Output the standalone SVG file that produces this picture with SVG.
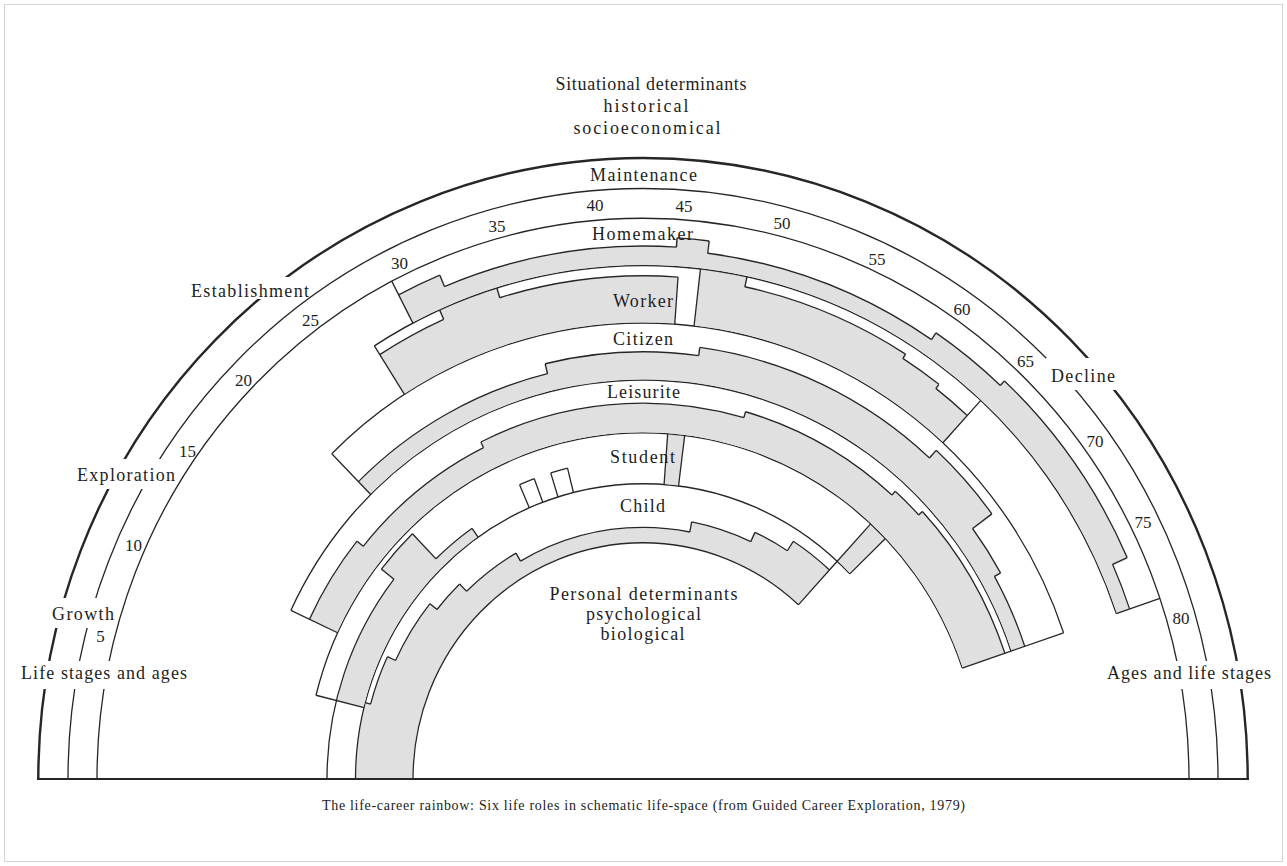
<svg xmlns="http://www.w3.org/2000/svg" width="1287" height="866" viewBox="0 0 1287 866">
<style>
.ln{fill:none;stroke:#262626;stroke-width:1.3}
.sh{fill:none;stroke:#e0e0e0}
.tx{font-family:"Liberation Serif","Times New Roman",serif;font-size:18px;fill:#1e1e1e;text-anchor:middle}
.nm{font-family:"Liberation Serif","Times New Roman",serif;font-size:17px;fill:#1e1e1e;text-anchor:middle}
.cap{font-family:"Liberation Serif","Times New Roman",serif;font-size:14px;fill:#222;text-anchor:middle}
.gap{fill:#fff}
</style>
<rect width="1287" height="866" fill="#fff"/>
<rect x="4.5" y="4.5" width="1278" height="857" fill="none" stroke="#d4d4d4"/>

<g id="rainbow" transform="translate(643,779) scale(1,1.027)">

<g id="role-child">
 <g transform="rotate(180)">
  <circle class="sh" r="258.75" stroke-width="56.3" pathLength="360" stroke-dasharray="15.15 400" stroke-dashoffset="0"/>
  <circle class="sh" r="256" stroke-width="50.8" pathLength="360" stroke-dasharray="10.3 400" stroke-dashoffset="-14.85"/>
  <circle class="sh" r="251.5" stroke-width="41.8" pathLength="360" stroke-dasharray="14 400" stroke-dashoffset="-24.85"/>
  <circle class="sh" r="247" stroke-width="32.8" pathLength="360" stroke-dasharray="7.6 400" stroke-dashoffset="-38.55"/>
  <circle class="sh" r="242" stroke-width="22.8" pathLength="360" stroke-dasharray="14.3 400" stroke-dashoffset="-45.85"/>
  <circle class="sh" r="237.5" stroke-width="13.8" pathLength="360" stroke-dasharray="41.3 400" stroke-dashoffset="-59.85"/>
  <circle class="sh" r="242.5" stroke-width="23.8" pathLength="360" stroke-dasharray="14.3 400" stroke-dashoffset="-100.85"/>
  <circle class="sh" r="247.5" stroke-width="33.8" pathLength="360" stroke-dasharray="8.3 400" stroke-dashoffset="-114.85"/>
  <circle class="sh" r="253" stroke-width="44.8" pathLength="360" stroke-dasharray="9.65 400" stroke-dashoffset="-122.85"/>
  <circle class="ln" r="230" pathLength="360" stroke-dasharray="132.5 400" stroke-dashoffset="0"/>
  <circle class="ln" r="287.5" pathLength="360" stroke-dasharray="136 400" stroke-dashoffset="0"/>
  <circle class="ln" r="282" pathLength="360" stroke-dasharray="10 400" stroke-dashoffset="-15"/>
  <circle class="ln" r="273" pathLength="360" stroke-dasharray="13.7 400" stroke-dashoffset="-25"/>
  <circle class="ln" r="264" pathLength="360" stroke-dasharray="7.3 400" stroke-dashoffset="-38.7"/>
  <circle class="ln" r="254" pathLength="360" stroke-dasharray="14 400" stroke-dashoffset="-46"/>
  <circle class="ln" r="245" pathLength="360" stroke-dasharray="41 400" stroke-dashoffset="-60"/>
  <circle class="ln" r="255" pathLength="360" stroke-dasharray="14 400" stroke-dashoffset="-101"/>
  <circle class="ln" r="265" pathLength="360" stroke-dasharray="8 400" stroke-dashoffset="-115"/>
  <circle class="ln" r="276" pathLength="360" stroke-dasharray="9.5 400" stroke-dashoffset="-123"/>
 </g>
 <line class="ln" x1="-287.5" x2="-282" transform="rotate(15)"/>
 <line class="ln" x1="-282" x2="-273" transform="rotate(25)"/>
 <line class="ln" x1="-273" x2="-264" transform="rotate(38.7)"/>
 <line class="ln" x1="-264" x2="-254" transform="rotate(46)"/>
 <line class="ln" x1="-254" x2="-245" transform="rotate(60)"/>
 <line class="ln" x1="-245" x2="-255" transform="rotate(101)"/>
 <line class="ln" x1="-255" x2="-265" transform="rotate(115)"/>
 <line class="ln" x1="-265" x2="-276" transform="rotate(123)"/>
 <line class="ln" x1="-230" x2="-287.5" transform="rotate(132.5)"/>
</g>

<g id="role-student">
 <g transform="rotate(180)">
  <circle class="sh" r="301.75" stroke-width="27.3" pathLength="360" stroke-dasharray="24.15 400" stroke-dashoffset="-14"/>
  <circle class="sh" r="309.75" stroke-width="43.3" pathLength="360" stroke-dasharray="8.3 400" stroke-dashoffset="-37.85"/>
  <circle class="sh" r="292.75" stroke-width="9.3" pathLength="360" stroke-dasharray="9.15 400" stroke-dashoffset="-45.85"/>
  <circle class="sh" r="312.25" stroke-width="48.3" pathLength="360" stroke-dasharray="2.9 400" stroke-dashoffset="-94.2"/>
  <circle class="sh" r="312.25" stroke-width="48.3" pathLength="360" stroke-dasharray="3.5 400" stroke-dashoffset="-132.5"/>
  <circle class="ln" r="316" pathLength="360" stroke-dasharray="38 400" stroke-dashoffset="0"/>
  <circle class="ln" r="332" pathLength="360" stroke-dasharray="8 400" stroke-dashoffset="-38"/>
  <circle class="ln" r="298" pathLength="360" stroke-dasharray="9 400" stroke-dashoffset="-46"/>
  <circle class="ln" r="337" pathLength="360" stroke-dasharray="147.3 400" stroke-dashoffset="-14"/>
  <circle class="ln" r="312" pathLength="360" stroke-dasharray="2.9 400" stroke-dashoffset="-66.7"/>
  <circle class="ln" r="312" pathLength="360" stroke-dasharray="3.2 400" stroke-dashoffset="-72.8"/>
 </g>
 <line class="ln" x1="-287.5" x2="-337" transform="rotate(14)"/>
 <line class="ln" x1="-316" x2="-332" transform="rotate(38)"/>
 <line class="ln" x1="-332" x2="-298" transform="rotate(46)"/>
 <line class="ln" x1="-298" x2="-287.5" transform="rotate(55)"/>
 <line class="ln" x1="-287.5" x2="-312" transform="rotate(66.7)"/>
 <line class="ln" x1="-287.5" x2="-312" transform="rotate(69.6)"/>
 <line class="ln" x1="-287.5" x2="-312" transform="rotate(72.8)"/>
 <line class="ln" x1="-287.5" x2="-312" transform="rotate(76)"/>
 <line class="ln" x1="-287.5" x2="-337" transform="rotate(94.2)"/>
 <line class="ln" x1="-287.5" x2="-337" transform="rotate(97.1)"/>
 <line class="ln" x1="-287.5" x2="-337" transform="rotate(132.5)"/>
 <line class="ln" x1="-287.5" x2="-337" transform="rotate(136)"/>
</g>

<g id="role-leisurite">
 <g transform="rotate(180)">
  <circle class="sh" r="352.5" stroke-width="29.8" pathLength="360" stroke-dasharray="14.15 400" stroke-dashoffset="-25"/>
  <circle class="sh" r="348.5" stroke-width="21.8" pathLength="360" stroke-dasharray="25 400" stroke-dashoffset="-38.85"/>
  <circle class="sh" r="351.5" stroke-width="27.8" pathLength="360" stroke-dasharray="42.6 400" stroke-dashoffset="-63.55"/>
  <circle class="sh" r="354.5" stroke-width="33.8" pathLength="360" stroke-dasharray="26.3 400" stroke-dashoffset="-105.85"/>
  <circle class="sh" r="357" stroke-width="38.8" pathLength="360" stroke-dasharray="5.3 400" stroke-dashoffset="-131.85"/>
  <circle class="sh" r="359.5" stroke-width="43.8" pathLength="360" stroke-dasharray="24.45 400" stroke-dashoffset="-136.85"/>
  <circle class="ln" r="388.5" pathLength="360" stroke-dasharray="136.3 400" stroke-dashoffset="-25"/>
  <circle class="ln" r="368" pathLength="360" stroke-dasharray="14 400" stroke-dashoffset="-25"/>
  <circle class="ln" r="360" pathLength="360" stroke-dasharray="24.7 400" stroke-dashoffset="-39"/>
  <circle class="ln" r="366" pathLength="360" stroke-dasharray="42.3 400" stroke-dashoffset="-63.7"/>
  <circle class="ln" r="372" pathLength="360" stroke-dasharray="26 400" stroke-dashoffset="-106"/>
  <circle class="ln" r="377" pathLength="360" stroke-dasharray="5 400" stroke-dashoffset="-132"/>
  <circle class="ln" r="382" pathLength="360" stroke-dasharray="24.3 400" stroke-dashoffset="-137"/>
 </g>
 <line class="ln" x1="-337" x2="-388.5" transform="rotate(25)"/>
 <line class="ln" x1="-368" x2="-360" transform="rotate(39)"/>
 <line class="ln" x1="-360" x2="-366" transform="rotate(63.7)"/>
 <line class="ln" x1="-366" x2="-372" transform="rotate(106)"/>
 <line class="ln" x1="-372" x2="-377" transform="rotate(132)"/>
 <line class="ln" x1="-377" x2="-382" transform="rotate(137)"/>
 <line class="ln" x1="-337" x2="-388.5" transform="rotate(161.3)"/>
</g>

<g id="role-citizen">
 <g transform="rotate(180)">
  <circle class="sh" r="397.25" stroke-width="16.3" pathLength="360" stroke-dasharray="31.05 400" stroke-dashoffset="-45.5"/>
  <circle class="sh" r="402.25" stroke-width="26.3" pathLength="360" stroke-dasharray="21.6 400" stroke-dashoffset="-76.25"/>
  <circle class="sh" r="406.25" stroke-width="34.3" pathLength="360" stroke-dasharray="35.1 400" stroke-dashoffset="-97.55"/>
  <circle class="sh" r="411.25" stroke-width="44.3" pathLength="360" stroke-dasharray="11.3 400" stroke-dashoffset="-132.35"/>
  <circle class="sh" r="399.25" stroke-width="20.3" pathLength="360" stroke-dasharray="7.5 400" stroke-dashoffset="-143.35"/>
  <circle class="sh" r="395.75" stroke-width="13.3" pathLength="360" stroke-dasharray="10.75 400" stroke-dashoffset="-150.55"/>
  <circle class="ln" r="444" pathLength="360" stroke-dasharray="115.8 400" stroke-dashoffset="-45.5"/>
  <circle class="ln" r="406" pathLength="360" stroke-dasharray="30.9 400" stroke-dashoffset="-45.5"/>
  <circle class="ln" r="416" pathLength="360" stroke-dasharray="21.3 400" stroke-dashoffset="-76.4"/>
  <circle class="ln" r="424" pathLength="360" stroke-dasharray="34.8 400" stroke-dashoffset="-97.7"/>
  <circle class="ln" r="434" pathLength="360" stroke-dasharray="11 400" stroke-dashoffset="-132.5"/>
  <circle class="ln" r="410" pathLength="360" stroke-dasharray="7.2 400" stroke-dashoffset="-143.5"/>
  <circle class="ln" r="403" pathLength="360" stroke-dasharray="10.6 400" stroke-dashoffset="-150.7"/>
 </g>
 <line class="ln" x1="-388.5" x2="-444" transform="rotate(45.5)"/>
 <line class="ln" x1="-406" x2="-416" transform="rotate(76.4)"/>
 <line class="ln" x1="-416" x2="-424" transform="rotate(97.7)"/>
 <line class="ln" x1="-424" x2="-434" transform="rotate(132.5)"/>
 <line class="ln" x1="-434" x2="-410" transform="rotate(143.5)"/>
 <line class="ln" x1="-410" x2="-403" transform="rotate(150.7)"/>
 <line class="ln" x1="-388.5" x2="-444" transform="rotate(161.3)"/>
</g>

<g id="role-worker">
 <g transform="rotate(180)">
  <circle class="sh" r="467" stroke-width="44.8" pathLength="360" stroke-dasharray="8.65 400" stroke-dashoffset="-57.5"/>
  <circle class="sh" r="472" stroke-width="54.8" pathLength="360" stroke-dasharray="7.3 400" stroke-dashoffset="-65.85"/>
  <circle class="sh" r="467" stroke-width="44.8" pathLength="360" stroke-dasharray="21.25 400" stroke-dashoffset="-72.85"/>
  <circle class="sh" r="472" stroke-width="54.8" pathLength="360" stroke-dasharray="5.55 400" stroke-dashoffset="-96.6"/>
  <circle class="sh" r="467" stroke-width="44.8" pathLength="360" stroke-dasharray="20.7 400" stroke-dashoffset="-101.85"/>
  <circle class="sh" r="464.5" stroke-width="39.8" pathLength="360" stroke-dasharray="5.5 400" stroke-dashoffset="-122.25"/>
  <circle class="sh" r="462" stroke-width="34.8" pathLength="360" stroke-dasharray="5.05 400" stroke-dashoffset="-127.45"/>
  <circle class="ln" r="500" pathLength="360" stroke-dasharray="103.7 400" stroke-dashoffset="-57.5"/>
  <circle class="ln" r="490" pathLength="360" stroke-dasharray="8.5 400" stroke-dashoffset="-57.5"/>
  <circle class="ln" r="490" pathLength="360" stroke-dasharray="21.1 400" stroke-dashoffset="-73"/>
  <circle class="ln" r="490" pathLength="360" stroke-dasharray="20.4 400" stroke-dashoffset="-102"/>
  <circle class="ln" r="485" pathLength="360" stroke-dasharray="5.2 400" stroke-dashoffset="-122.4"/>
  <circle class="ln" r="480" pathLength="360" stroke-dasharray="4.9 400" stroke-dashoffset="-127.6"/>
 </g>
 <line class="ln" x1="-444" x2="-500" transform="rotate(57.5)"/>
 <line class="ln" x1="-490" x2="-500" transform="rotate(66)"/>
 <line class="ln" x1="-500" x2="-490" transform="rotate(73)"/>
 <line class="ln" x1="-490" x2="-444" transform="rotate(94.1)"/>
 <line class="ln" x1="-444" x2="-500" transform="rotate(96.6)"/>
 <line class="ln" x1="-500" x2="-490" transform="rotate(102)"/>
 <line class="ln" x1="-490" x2="-485" transform="rotate(122.4)"/>
 <line class="ln" x1="-485" x2="-480" transform="rotate(127.6)"/>
 <line class="ln" x1="-444" x2="-500" transform="rotate(132.5)"/>
</g>

<g id="role-homemaker">
 <g transform="rotate(180)">
  <circle class="sh" r="515.5" stroke-width="29.8" pathLength="360" stroke-dasharray="5.05 400" stroke-dashoffset="-62.6"/>
  <circle class="sh" r="509.5" stroke-width="17.8" pathLength="360" stroke-dasharray="26.5 400" stroke-dashoffset="-67.35"/>
  <circle class="sh" r="514" stroke-width="26.8" pathLength="360" stroke-dasharray="3.8 400" stroke-dashoffset="-93.55"/>
  <circle class="sh" r="508" stroke-width="14.8" pathLength="360" stroke-dasharray="27.1 400" stroke-dashoffset="-97.05"/>
  <circle class="sh" r="512" stroke-width="22.8" pathLength="360" stroke-dasharray="9.3 400" stroke-dashoffset="-123.85"/>
  <circle class="sh" r="515" stroke-width="28.8" pathLength="360" stroke-dasharray="23.3 400" stroke-dashoffset="-132.85"/>
  <circle class="sh" r="507" stroke-width="12.8" pathLength="360" stroke-dasharray="5.35 400" stroke-dashoffset="-155.85"/>
  <circle class="ln" r="531" pathLength="360" stroke-dasharray="4.9 400" stroke-dashoffset="-62.6"/>
  <circle class="ln" r="519" pathLength="360" stroke-dasharray="26.2 400" stroke-dashoffset="-67.5"/>
  <circle class="ln" r="528" pathLength="360" stroke-dasharray="3.5 400" stroke-dashoffset="-93.7"/>
  <circle class="ln" r="516" pathLength="360" stroke-dasharray="26.8 400" stroke-dashoffset="-97.2"/>
  <circle class="ln" r="524" pathLength="360" stroke-dasharray="9 400" stroke-dashoffset="-124"/>
  <circle class="ln" r="530" pathLength="360" stroke-dasharray="23 400" stroke-dashoffset="-133"/>
  <circle class="ln" r="514" pathLength="360" stroke-dasharray="5.2 400" stroke-dashoffset="-156"/>
 </g>
 <line class="ln" x1="-500" x2="-546" transform="rotate(62.6)"/>
 <line class="ln" x1="-531" x2="-519" transform="rotate(67.5)"/>
 <line class="ln" x1="-519" x2="-528" transform="rotate(93.7)"/>
 <line class="ln" x1="-528" x2="-516" transform="rotate(97.2)"/>
 <line class="ln" x1="-516" x2="-524" transform="rotate(124)"/>
 <line class="ln" x1="-524" x2="-530" transform="rotate(133)"/>
 <line class="ln" x1="-530" x2="-514" transform="rotate(156)"/>
 <line class="ln" x1="-500" x2="-546" transform="rotate(161.2)"/>
</g>

<g id="life-stages">
 <path class="ln" d="M -604.7 0 A 604.7 604.7 0 0 1 604.7 0" style="stroke-width:2.4"/>
 <path class="ln" d="M -575 0 A 575 575 0 0 1 575 0"/>
 <path class="ln" d="M -546 0 A 546 546 0 0 1 546 0"/>
</g>
</g>

<line id="baseline" x1="37" y1="779" x2="1249" y2="779" stroke="#262626" stroke-width="2"/>

<g id="stage-labels">
 <rect class="gap" x="17" y="661" width="174" height="28"/>
 <rect class="gap" x="47" y="598" width="69" height="30"/>
 <rect class="gap" x="72" y="459" width="102" height="30"/>
 <rect class="gap" x="186" y="277" width="120" height="22"/>
 <rect class="gap" x="1046" y="358" width="74" height="32"/>
 <rect class="gap" x="1102" y="661" width="174" height="28"/>
 <text class="tx" x="104" y="679" textLength="166">Life stages and ages</text>
 <text class="tx" x="83" y="620" textLength="62">Growth</text>
 <text class="tx" x="126" y="481" textLength="98">Exploration</text>
 <text class="tx" x="250" y="297" textLength="118">Establishment</text>
 <text class="tx" x="643.5" y="181" textLength="107">Maintenance</text>
 <text class="tx" x="1083" y="382" textLength="64">Decline</text>
 <text class="tx" x="1189" y="679" textLength="164">Ages and life stages</text>
</g>

<g id="ages">
 <text class="nm" x="100.5" y="642">5</text>
 <text class="nm" x="133.5" y="551">10</text>
 <text class="nm" x="187.5" y="457">15</text>
 <text class="nm" x="243.5" y="386">20</text>
 <text class="nm" x="310.5" y="326">25</text>
 <text class="nm" x="399.5" y="269">30</text>
 <text class="nm" x="497" y="232">35</text>
 <text class="nm" x="595" y="211">40</text>
 <text class="nm" x="684" y="212">45</text>
 <text class="nm" x="782" y="229">50</text>
 <text class="nm" x="877" y="265">55</text>
 <text class="nm" x="962" y="315">60</text>
 <text class="nm" x="1025.5" y="367">65</text>
 <text class="nm" x="1095" y="447">70</text>
 <text class="nm" x="1143" y="528">75</text>
 <text class="nm" x="1181" y="624">80</text>
</g>

<g id="role-labels">
 <text class="tx" x="642.5" y="240" textLength="101">Homemaker</text>
 <text class="tx" x="643" y="307" textLength="60">Worker</text>
 <text class="tx" x="643" y="345" textLength="60">Citizen</text>
 <text class="tx" x="643.5" y="398" textLength="73">Leisurite</text>
 <text class="tx" x="642.5" y="463" textLength="65">Student</text>
 <text class="tx" x="642.5" y="512" textLength="45">Child</text>
</g>

<g id="determinants">
 <text class="tx" x="651" y="90" textLength="191">Situational determinants</text>
 <text class="tx" x="646" y="112" textLength="85">historical</text>
 <text class="tx" x="647" y="134" textLength="147">socioeconomical</text>
 <text class="tx" x="643.5" y="600" textLength="188">Personal determinants</text>
 <text class="tx" x="643.5" y="620" textLength="115">psychological</text>
 <text class="tx" x="642.5" y="640" textLength="84">biological</text>
</g>

<text class="cap" x="643.5" y="810" textLength="643">The life-career rainbow: Six life roles in schematic life-space (from Guided Career Exploration, 1979)</text>
</svg>
